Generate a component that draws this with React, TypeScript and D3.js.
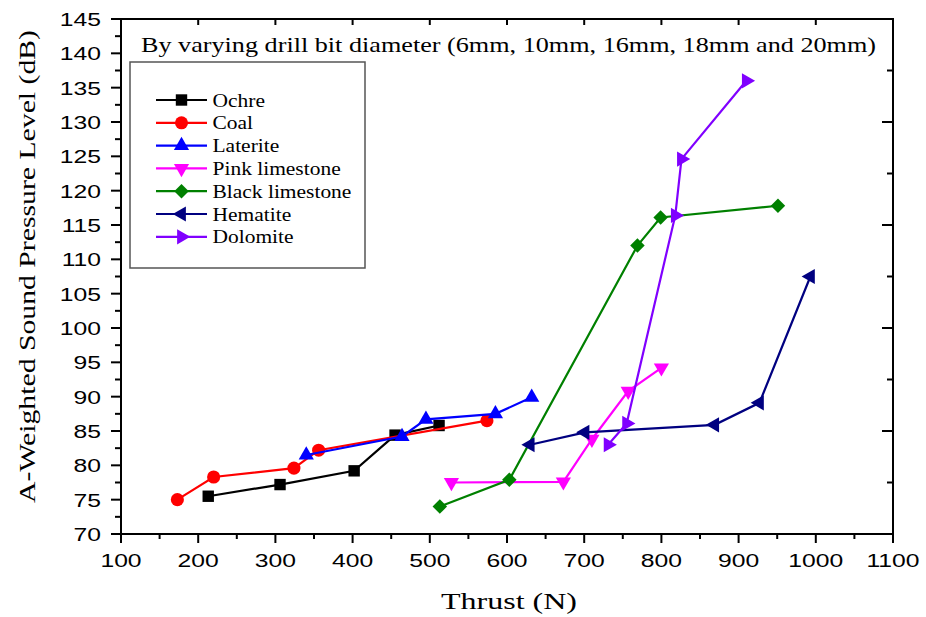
import React from "react";
import * as d3 from "d3";

const seriesNames = ["Ochre", "Coal", "Laterite", "Pink limestone", "Black limestone", "Hematite", "Dolomite"];
const seriesColors = ["#000000", "#ff0000", "#0000ff", "#ff00ff", "#008000", "#000080", "#8000ff"];
const seriesShapes = ["square", "circle", "up", "down", "diamond", "left", "right"];

const ochreX = [213, 306, 402, 455, 512];
const ochreY = [75.5, 77.2, 79.2, 84.4, 85.8];
const coalX = [173, 220, 324, 356, 574];
const coalY = [75.0, 78.3, 79.6, 82.2, 86.5];
const lateriteX = [340, 464, 495, 585, 632];
const lateriteY = [81.5, 84.2, 86.7, 87.5, 89.9];
const pinkX = [528, 673, 710, 757, 800];
const pinkY = [77.5, 77.6, 83.8, 90.8, 94.2];
const blackX = [513, 603, 769, 799, 951];
const blackY = [74.0, 77.9, 112.0, 116.1, 117.8];
const hematiteX = [630, 701, 869, 927, 993];
const hematiteY = [83.0, 84.8, 85.9, 89.1, 107.5];
const dolomiteX = [731, 755, 818, 826, 910];
const dolomiteY = [83.0, 86.1, 116.4, 124.6, 136.0];

const seriesX = [ochreX, coalX, lateriteX, pinkX, blackX, hematiteX, dolomiteX];
const seriesY = [ochreY, coalY, lateriteY, pinkY, blackY, hematiteY, dolomiteY];

const xTickValues = [100, 200, 300, 400, 500, 600, 700, 800, 900, 1000, 1100];
const yTickValues = [70, 75, 80, 85, 90, 95, 100, 105, 110, 115, 120, 125, 130, 135, 140, 145];

const titleText = "By varying drill bit diameter (6mm, 10mm, 16mm, 18mm and 20mm)";
const xTitle = "Thrust (N)";
const yTitle = "A-Weighted Sound Pressure Level (dB)";

const W = 926, H = 617;
const L = 121, R = 893, T = 19, B = 534;
const SERIF = "'Liberation Serif', 'Times New Roman', serif";
const SANS = "'Liberation Sans', Arial, sans-serif";

const x = d3.scaleLinear().domain([100, 1100]).range([L, R]);
const y = d3.scaleLinear().domain([70, 145]).range([B, T]);

function markerPath(shape: string): { d: string; rot: number } {
  const tri = d3.symbol().type(d3.symbolTriangle).size(100)() as string;
  switch (shape) {
    case "square": return { d: d3.symbol().type(d3.symbolSquare).size(130)() as string, rot: 0 };
    case "circle": return { d: d3.symbol().type(d3.symbolCircle).size(135)() as string, rot: 0 };
    case "diamond": return { d: d3.symbol().type(d3.symbolSquare).size(105)() as string, rot: 45 };
    case "up": return { d: tri, rot: 0 };
    case "down": return { d: tri, rot: 180 };
    case "left": return { d: tri, rot: -90 };
    case "right": return { d: tri, rot: 90 };
  }
  return { d: "", rot: 0 };
}

export default function App() {
  const line = d3.line<[number, number]>().x((p) => x(p[0])).y((p) => y(p[1]));
  const xMinor = d3.range(150, 1100, 100);
  const yMinor = d3.range(72.5, 145, 5);
  const rMajor = d3.range(85, 146, 15);
  const rMinor = d3.range(77.5, 145, 15);

  return (
    <svg width={W} height={H} style={{ position: "absolute", left: 0, top: 0, background: "#fff" }}>
      <rect x={0} y={0} width={W} height={H} fill="#fff" />
      {/* frame */}
      <line x1={L} x2={L} y1={T - 1} y2={B + 1} stroke="#000" strokeWidth={2} />
      <line x1={L - 1} x2={R + 1} y1={B} y2={B} stroke="#000" strokeWidth={2} />
      <line x1={L - 1} x2={R + 1} y1={T} y2={T} stroke="#000" strokeWidth={2} />
      <line x1={R} x2={R} y1={T - 1} y2={B + 1} stroke="#000" strokeWidth={2} />

      {/* bottom ticks */}
      {xTickValues.map((v) => (
        <g key={"xb" + v}>
          <line x1={x(v)} x2={x(v)} y1={B} y2={B + 9} stroke="#000" strokeWidth={2} />
          <g transform={`translate(${x(v)},${567}) scale(1.3,1)`}>
            <text x={0} y={0} textAnchor="middle" fontFamily={SANS} fontSize={19} fill="#000">{v}</text>
          </g>
        </g>
      ))}
      {xMinor.map((v) => (
        <line key={"xm" + v} x1={x(v)} x2={x(v)} y1={B} y2={B + 5} stroke="#000" strokeWidth={2} />
      ))}
      {/* top ticks inward */}
      {xTickValues.slice(1, -1).map((v) => (
        <line key={"xt" + v} x1={x(v)} x2={x(v)} y1={T} y2={T + 6} stroke="#000" strokeWidth={2} />
      ))}

      {/* left ticks */}
      {yTickValues.map((v) => (
        <g key={"yl" + v}>
          <line x1={L - 10} x2={L} y1={y(v)} y2={y(v)} stroke="#000" strokeWidth={2} />
          <g transform={`translate(${L - 20},${y(v) + 7}) scale(1.3,1)`}>
            <text x={0} y={0} textAnchor="end" fontFamily={SANS} fontSize={19} fill="#000">{v}</text>
          </g>
        </g>
      ))}
      {yMinor.map((v) => (
        <line key={"ym" + v} x1={L - 6} x2={L} y1={y(v)} y2={y(v)} stroke="#000" strokeWidth={2} />
      ))}
      {/* right ticks inward */}
      {rMajor.slice(0, -1).map((v) => (
        <line key={"rM" + v} x1={R - 11} x2={R} y1={y(v)} y2={y(v)} stroke="#000" strokeWidth={2} />
      ))}
      {rMinor.map((v) => (
        <line key={"rm" + v} x1={R - 6} x2={R} y1={y(v)} y2={y(v)} stroke="#000" strokeWidth={2} />
      ))}

      {/* series */}
      {seriesNames.map((name, i) => {
        const pts = seriesX[i].map((vx, j) => [vx, seriesY[i][j]] as [number, number]);
        const m = markerPath(seriesShapes[i]);
        return (
          <g key={name}>
            <path d={line(pts) as string} fill="none" stroke={seriesColors[i]} strokeWidth={2.2} />
            {pts.map((p, j) => (
              <path key={j} d={m.d} fill={seriesColors[i]}
                transform={`translate(${x(p[0])},${y(p[1])}) rotate(${m.rot})`} />
            ))}
          </g>
        );
      })}

      {/* title */}
      <text x={141} y={52} fontFamily={SERIF} fontSize={21} fill="#000" textLength={735} lengthAdjust="spacingAndGlyphs">{titleText}</text>

      {/* legend */}
      <rect x={130} y={62} width={235} height={206} fill="#fff" stroke="#555" strokeWidth={1.5} />
      {seriesNames.map((name, i) => {
        const cy = 100 + i * 22.8;
        const m = markerPath(seriesShapes[i]);
        return (
          <g key={"lg" + name}>
            <line x1={156} x2={207} y1={cy} y2={cy} stroke={seriesColors[i]} strokeWidth={2.2} />
            <path d={m.d} fill={seriesColors[i]} transform={`translate(181.5,${cy}) rotate(${m.rot})`} />
            <g transform={`translate(212.5,${cy + 6.5}) scale(1.13,1)`}>
              <text x={0} y={0} fontFamily={SERIF} fontSize={19} fill="#000">{name}</text>
            </g>
          </g>
        );
      })}

      {/* axis titles */}
      <text x={441} y={609} fontFamily={SERIF} fontSize={24} fill="#000" textLength={136} lengthAdjust="spacingAndGlyphs">{xTitle}</text>
      <g transform={`translate(35,503) rotate(-90)`}>
        <text x={0} y={0} fontFamily={SERIF} fontSize={23} fill="#000" textLength={473} lengthAdjust="spacingAndGlyphs">{yTitle}</text>
      </g>
    </svg>
  );
}
